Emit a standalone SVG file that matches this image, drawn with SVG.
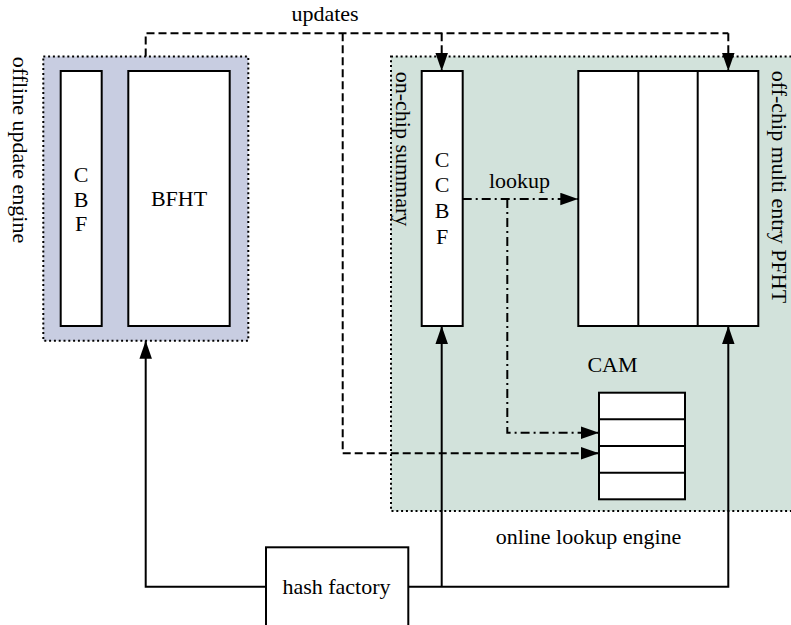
<svg xmlns="http://www.w3.org/2000/svg" width="791" height="625" viewBox="0 0 791 625">
  <style>
    .lbl { font-family: "Liberation Serif", "Times New Roman", serif; font-size: 22px; fill: #000; }
    .mid { text-anchor: middle; }
    .box { fill: #fff; stroke: #000; stroke-width: 2; }
    .panel { stroke: #000; stroke-width: 2; stroke-dasharray: 2 2.8; }
    .solid { fill: none; stroke: #000; stroke-width: 2; }
    .dash { fill: none; stroke: #000; stroke-width: 2; stroke-dasharray: 8 4; }
    .dashdot { fill: none; stroke: #000; stroke-width: 2; stroke-dasharray: 9 4 2 4; }
  </style>
  <defs>
    <marker id="arrow" markerUnits="userSpaceOnUse" markerWidth="18" markerHeight="13" refX="18" refY="6.25" orient="auto">
      <path d="M0,0 L18,6.25 L0,12.5 Z" fill="#000" stroke="none"/>
    </marker>
  </defs>

  <!-- offline update engine -->
  <g id="offline-engine">
    <rect class="panel" x="43.3" y="56.5" width="205" height="284.2" fill="#C8CDE1"/>
    <text class="lbl" transform="translate(12.5,56.7) rotate(90)">offline update engine</text>
  </g>
  <g id="cbf">
    <rect class="box" x="60.7" y="71" width="41" height="255"/>
    <text class="lbl mid" x="81.2" y="181.7">C</text>
    <text class="lbl mid" x="81.2" y="206.7">B</text>
    <text class="lbl mid" x="81.2" y="230.5">F</text>
  </g>
  <g id="bfht">
    <rect class="box" x="128.3" y="71" width="101.4" height="255"/>
    <text class="lbl mid" x="179" y="206">BFHT</text>
  </g>

  <!-- online lookup engine -->
  <g id="online-engine">
    <rect class="panel" x="391" y="56.5" width="410" height="454.5" fill="#D2E2DB"/>
    <text class="lbl" transform="translate(396,71.7) rotate(90)">on-chip summary</text>
    <text class="lbl" transform="translate(771.7,70.7) rotate(90)">off-chip multi entry PFHT</text>
    <text class="lbl mid" x="588.5" y="543.5">online lookup engine</text>
  </g>
  <g id="ccbf">
    <rect class="box" x="421.7" y="71" width="41" height="255"/>
    <text class="lbl mid" x="442.2" y="166.7">C</text>
    <text class="lbl mid" x="442.2" y="192">C</text>
    <text class="lbl mid" x="442.2" y="218.3">B</text>
    <text class="lbl mid" x="442.2" y="244">F</text>
  </g>
  <g id="pfht">
    <rect class="box" x="578.3" y="71" width="180" height="255"/>
    <line class="solid" x1="638.3" y1="71" x2="638.3" y2="326"/>
    <line class="solid" x1="697.7" y1="71" x2="697.7" y2="326"/>
  </g>
  <g id="cam">
    <text class="lbl mid" x="612.5" y="371.7">CAM</text>
    <rect class="box" x="599" y="392.7" width="86" height="106.6"/>
    <line class="solid" x1="599" y1="419.3" x2="685" y2="419.3"/>
    <line class="solid" x1="599" y1="446" x2="685" y2="446"/>
    <line class="solid" x1="599" y1="472.7" x2="685" y2="472.7"/>
  </g>
  <g id="hash-factory">
    <rect class="box" x="266" y="547.3" width="142.3" height="100"/>
    <text class="lbl mid" x="336.5" y="594">hash factory</text>
  </g>

  <!-- connectors -->
  <g id="connectors">
    <!-- updates from the offline engine -->
    <path class="dash" d="M145.7,56.5 V33.3 H728.3"/>
    <path class="dash" d="M441.7,33.3 V71" marker-end="url(#arrow)"/>
    <path class="dash" d="M728.3,33.3 V71" marker-end="url(#arrow)"/>
    <path class="dash" d="M342.7,33.3 V453.3 H599" marker-end="url(#arrow)"/>
    <text class="lbl mid" x="325" y="20.7">updates</text>

    <!-- lookup path -->
    <path class="dashdot" d="M462.7,199 H578.3" marker-end="url(#arrow)"/>
    <path class="dashdot" d="M507.3,199 V432.7 H599" marker-end="url(#arrow)"/>
    <text class="lbl mid" x="519.5" y="187.5">lookup</text>

    <!-- hash factory outputs -->
    <path class="solid" d="M266,586.7 H145.7 V340.7" marker-end="url(#arrow)"/>
    <path class="solid" d="M408.3,586.7 H728.3 V326" marker-end="url(#arrow)"/>
    <path class="solid" d="M441.7,586.7 V326" marker-end="url(#arrow)"/>
  </g>
</svg>
